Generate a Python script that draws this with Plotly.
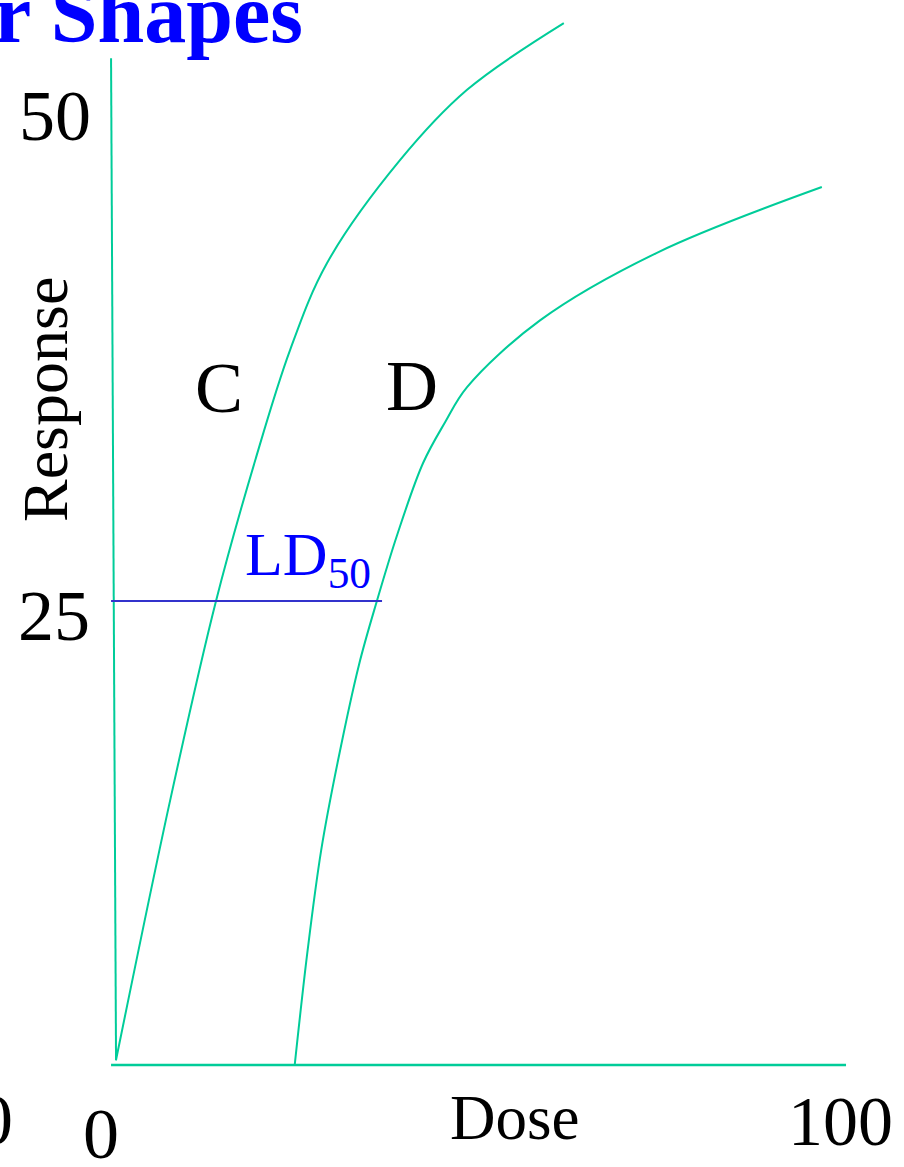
import plotly.graph_objects as go

# Dose-response curves C and D (dose 0-100, response 0-50+)
dose_c = [0.4, 7.8, 14.05, 19.4, 24.15, 29.2, 39.15, 48.3, 61.5]
resp_c = [0.2, 14.25, 25.0, 32.6, 38.55, 43.25, 48.8, 52.6, 56.2]

dose_d = [24.8, 26.55, 28.4, 30.7, 33.55, 36.0, 38.75, 42.3, 45.3, 48.3, 58.25, 74.2, 96.7]
resp_d = [0.0, 6.15, 11.55, 16.4, 21.55, 25.0, 28.55, 32.45, 34.65, 36.55, 40.15, 43.8, 47.35]

# Axis lines as drawn (the vertical one leans slightly)
y_axis_x = [-0.27, 0.41]
y_axis_y = [54.3, 0.2]
x_axis_x = [-0.27, 100.0]
x_axis_y = [-0.05, -0.05]

# LD50 reference level
ld50_level = 25
ld50_x = [-0.27, 36.7]

tick_labels = ["50", "25", "0", "100"]

GREEN = "#00cc99"
SERIF = "Liberation Serif, Times New Roman, serif"

fig = go.Figure()

line_style = dict(color=GREEN, width=2)
fig.add_trace(go.Scatter(x=y_axis_x, y=y_axis_y, mode="lines", line=line_style))
fig.add_trace(go.Scatter(x=x_axis_x, y=x_axis_y, mode="lines", line=dict(color=GREEN, width=2.5)))
fig.add_trace(go.Scatter(x=dose_c, y=resp_c, mode="lines",
                         line=dict(color=GREEN, width=2, shape="spline", smoothing=1.0)))
fig.add_trace(go.Scatter(x=dose_d, y=resp_d, mode="lines",
                         line=dict(color=GREEN, width=2, shape="spline", smoothing=1.0)))
fig.add_trace(go.Scatter(x=ld50_x, y=[ld50_level, ld50_level], mode="lines",
                         line=dict(color="#3333cc", width=2)))

ann = []
def label(text, x, y, size, color="black", **kw):
    ann.append(dict(text=text, x=x, y=y, xref="x", yref="y", showarrow=False,
                    font=dict(family=SERIF, size=size, color=color), **kw))

label(tick_labels[0], -7.9, 51.2, 72)
label(tick_labels[1], -8.0, 24.2, 72)
label(tick_labels[2], -1.6, -3.8, 72)
label(tick_labels[3], 99.3, -3.1, 70)
label("0", -13.4, -3.0, 72, xanchor="right")
label("Dose", 54.8, -2.9, 63)
label("Response", -9.3, 35.9, 64, textangle=-90)
label("C", 14.5, 36.5, 72)
label("D", 40.8, 36.6, 72)
label("LD<sub>50</sub>", 17.7, 27.3, 62, color="#0000ff", xanchor="left")

ann.append(dict(text="<b>r Shapes</b>", x=305 / 904, y=1 - 14 / 1167, xref="paper", yref="paper",
                xanchor="right", yanchor="middle", showarrow=False,
                font=dict(family=SERIF, size=84, color="#0000ff")))

fig.update_layout(
    width=904, height=1167,
    margin=dict(l=0, r=0, t=0, b=0),
    paper_bgcolor="white", plot_bgcolor="white",
    showlegend=False,
    xaxis=dict(range=[-15.42, 107.91], visible=False, fixedrange=True),
    yaxis=dict(range=[-5.56, 57.45], visible=False, fixedrange=True),
    annotations=ann,
)

fig.write_html("out.html")
